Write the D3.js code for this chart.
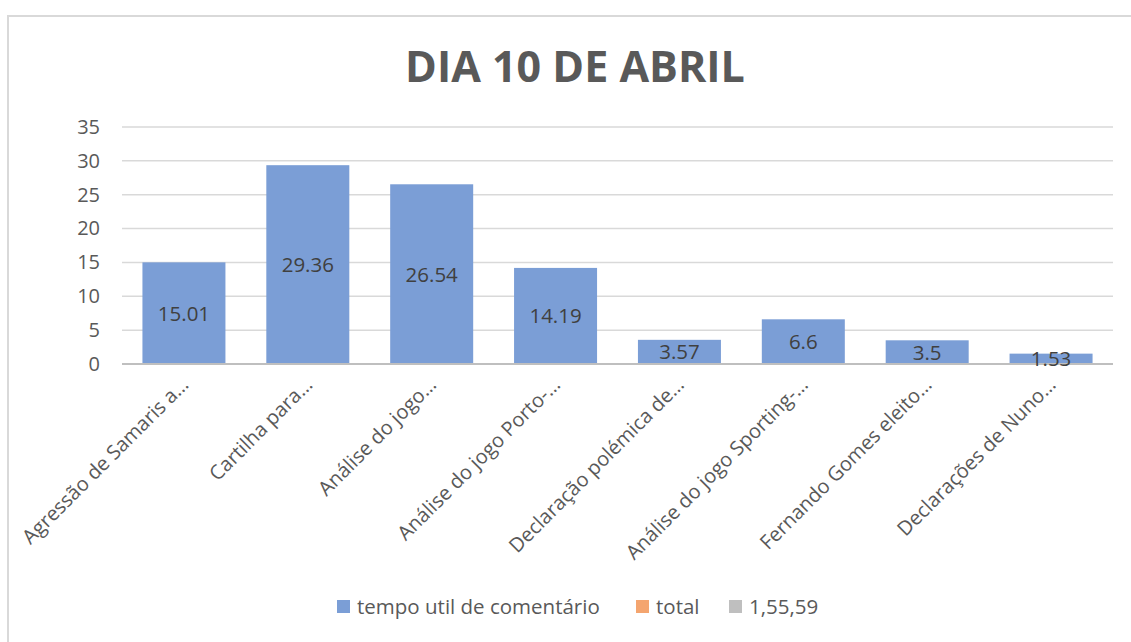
<!DOCTYPE html>
<html>
<head>
<meta charset="utf-8">
<script src="https://cdn.jsdelivr.net/npm/d3@7"></script>
<style>
  body { margin: 0; background: #fff; }
  text { font-family: "Open Sans", sans-serif; }
</style>
</head>
<body>
<div class="canvas"></div>
<script>
const categories = [
  'Agressão de Samaris a…',
  'Cartilha para…',
  'Análise do jogo…',
  'Análise do jogo Porto-…',
  'Declaração polémica de…',
  'Análise do jogo Sporting-…',
  'Fernando Gomes eleito…',
  'Declarações de Nuno…'
];
const tempoUtil = [15.01, 29.36, 26.54, 14.19, 3.57, 6.6, 3.5, 1.53];
const yTicks = [0, 5, 10, 15, 20, 25, 30, 35];
const legendNames = ['tempo util de comentário', 'total', '1,55,59'];
const legendColors = ['#7b9ed6', '#f4a56f', '#bfbfbf'];

const width = 1131, height = 642;
const margin = {top: 127, right: 18, bottom: 278, left: 122};
const graphWidth = width - margin.left - margin.right;
const graphHeight = height - margin.top - margin.bottom;

const svg = d3.select('.canvas')
  .append('svg')
    .attr('width', width)
    .attr('height', height);

// chart frame
svg.append('rect')
  .attr('x', 8).attr('y', 16)
  .attr('width', width + 10).attr('height', height + 10)
  .attr('fill', 'none')
  .attr('stroke', '#d9d9d9')
  .attr('stroke-width', 2);

svg.append('text')
  .attr('x', 575).attr('y', 82)
  .attr('text-anchor', 'middle')
  .attr('font-size', 43)
  .attr('font-weight', 'bold')
  .attr('fill', '#595959')
  .text('DIA 10 DE ABRIL');

const graph = svg.append('g')
  .attr('transform', `translate(${margin.left}, ${margin.top})`);

const y = d3.scaleLinear()
  .domain([0, 35])
  .range([graphHeight, 0]);

const x = d3.scaleBand()
  .domain(categories)
  .range([0, graphWidth])
  .paddingInner(0.33)
  .paddingOuter(0.165);

// gridlines
graph.selectAll('line.grid')
  .data(yTicks.filter(d => d > 0))
  .enter()
  .append('line')
    .attr('class', 'grid')
    .attr('x1', 0).attr('x2', graphWidth)
    .attr('y1', d => y(d)).attr('y2', d => y(d))
    .attr('stroke', '#d9d9d9')
    .attr('stroke-width', 1.5);

const yAxis = d3.axisLeft(y).tickValues(yTicks).tickSize(0).tickPadding(22);
const yAxisGroup = graph.append('g').call(yAxis);
yAxisGroup.select('.domain').remove();
yAxisGroup.selectAll('text')
  .attr('font-size', 20)
  .attr('fill', '#595959')
  .style('font-family', '"Open Sans", sans-serif');

graph.selectAll('rect.bar')
  .data(tempoUtil)
  .enter()
  .append('rect')
    .attr('class', 'bar')
    .attr('x', (d, i) => x(categories[i]))
    .attr('y', d => y(d))
    .attr('width', x.bandwidth())
    .attr('height', d => graphHeight - y(d))
    .attr('fill', '#7b9ed6');

// baseline
graph.append('line')
  .attr('x1', 0).attr('x2', graphWidth)
  .attr('y1', graphHeight).attr('y2', graphHeight)
  .attr('stroke', '#bfbfbf')
  .attr('stroke-width', 2);

graph.selectAll('text.val')
  .data(tempoUtil)
  .enter()
  .append('text')
    .attr('class', 'val')
    .attr('x', (d, i) => x(categories[i]) + x.bandwidth() / 2)
    .attr('y', d => (y(d) + graphHeight) / 2)
    .attr('dy', '0.36em')
    .attr('text-anchor', 'middle')
    .attr('font-size', 20.5)
    .attr('fill', '#404040')
    .text(d => d);

const xAxis = d3.axisBottom(x).tickSize(0).tickPadding(0);
const xAxisGroup = graph.append('g')
  .attr('transform', `translate(0, ${graphHeight})`)
  .call(xAxis);
xAxisGroup.select('.domain').remove();
xAxisGroup.selectAll('text')
  .attr('font-size', 20)
  .attr('fill', '#595959')
  .style('font-family', '"Open Sans", sans-serif')
  .attr('text-anchor', 'end')
  .attr('transform', 'translate(-4, 12) rotate(-45)')
  .attr('y', 0)
  .attr('dy', '0.7em');

// legend
const legendX = [337, 636, 729];
const legend = svg.append('g');
legendNames.forEach((name, i) => {
  legend.append('rect')
    .attr('x', legendX[i]).attr('y', 600)
    .attr('width', 13).attr('height', 13)
    .attr('fill', legendColors[i]);
  legend.append('text')
    .attr('x', legendX[i] + 20).attr('y', 614)
    .attr('font-size', 20.5)
    .attr('fill', '#595959')
    .text(name);
});
</script>
</body>
</html>
